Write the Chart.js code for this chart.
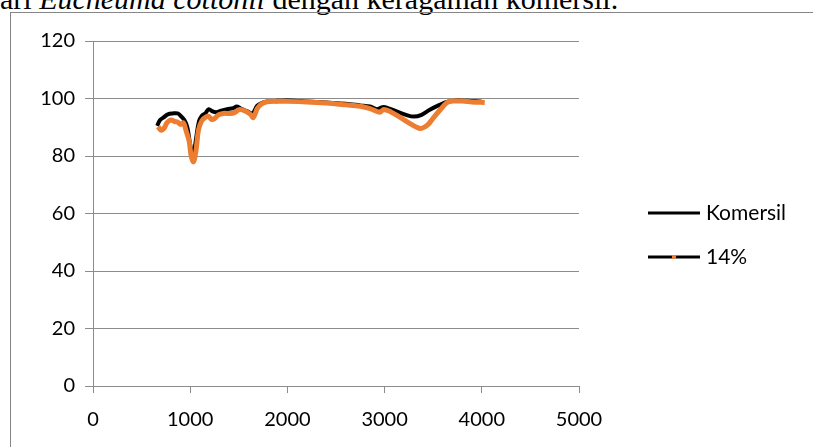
<!DOCTYPE html>
<html>
<head>
<meta charset="utf-8">
<script src="https://cdn.jsdelivr.net/npm/chart.js@4.4.1/dist/chart.umd.min.js"></script>
<style>
  body { margin: 0; background: #fff; overflow: hidden; }
  #caption { position: absolute; left: -15px; top: -18px; font: 30px/33px "Liberation Serif", serif; white-space: nowrap; color: #000; }
  #frame { position: absolute; left: 10px; top: 12px; width: 900px; height: 500px; border-left: 1px solid #868686; border-top: 1px solid #868686; }
  #wrap { position: absolute; left: 0; top: 0; width: 813px; height: 447px; }
</style>
</head>
<body>
<div id="caption">dari <i>Eucheuma cottonii</i> dengan keragaman komersil.</div>
<div id="frame"></div>
<div id="wrap"><canvas id="ftir" width="813" height="447"></canvas></div>
<script>
// wavenumber (x) and % transmittance (y)
const komersilX = [660, 690, 730, 770, 820, 870, 900, 940, 970, 1000, 1030, 1060, 1090, 1120, 1160, 1190, 1230, 1270, 1320, 1380, 1440, 1480, 1530, 1590, 1640, 1690, 1740, 1800, 1900, 2000, 2200, 2400, 2600, 2750, 2850, 2920, 2980, 3050, 3130, 3220, 3300, 3380, 3460, 3560, 3650, 3750, 3850, 4000];
const komersilY = [90.5, 92.5, 93.5, 94.5, 94.8, 94.8, 94.0, 92.5, 90.0, 84.0, 80.0, 86.0, 92.0, 94.0, 95.0, 96.3, 95.5, 95.2, 95.8, 96.3, 96.6, 97.2, 96.3, 95.5, 94.8, 97.5, 98.5, 99.0, 99.2, 99.3, 99.0, 98.6, 98.2, 97.6, 97.2, 96.3, 97.0, 96.5, 95.4, 94.3, 93.7, 94.3, 96.0, 97.7, 98.9, 99.3, 99.2, 98.9];

const p14X = [670, 700, 730, 760, 800, 840, 870, 900, 930, 960, 990, 1010, 1035, 1060, 1085, 1120, 1160, 1190, 1220, 1250, 1290, 1340, 1400, 1450, 1510, 1580, 1620, 1650, 1690, 1730, 1790, 1900, 2000, 2200, 2400, 2600, 2750, 2850, 2950, 2990, 3060, 3160, 3250, 3330, 3380, 3440, 3500, 3570, 3640, 3700, 3800, 3900, 4030];
const p14Y = [90.2, 89.0, 89.6, 91.5, 92.5, 92.0, 91.8, 91.0, 91.5, 88.5, 85.0, 80.0, 78.0, 82.0, 89.0, 92.3, 93.5, 93.8, 92.7, 93.0, 94.3, 94.8, 94.8, 95.0, 96.2, 95.4, 94.5, 93.4, 96.5, 98.0, 98.9, 99.0, 99.0, 98.8, 98.4, 97.8, 97.3, 96.5, 95.2, 96.2, 95.4, 93.4, 91.5, 90.0, 89.6, 90.7, 93.2, 96.0, 98.5, 99.1, 99.1, 98.8, 98.6];

const seriesNames = ["Komersil", "14%"];
const xTicks = [0, 1000, 2000, 3000, 4000, 5000];
const yTicks = [0, 20, 40, 60, 80, 100, 120];

const toPoints = (xs, ys) => xs.map((x, i) => ({ x: x, y: ys[i] }));

const gridColor = "#8c8c8c";
const tickFont = { family: "Lato", size: 20 };

// legend drawn by hand: Excel shows the 14% entry as a black line with an orange marker
const excelLegend = {
  id: "excelLegend",
  afterDraw(chart) {
    const ctx = chart.ctx;
    const rows = [
      { y: 213, marker: false },
      { y: 257, marker: true }
    ];
    ctx.save();
    rows.forEach((row, i) => {
      ctx.strokeStyle = "#000";
      ctx.lineWidth = 3;
      ctx.beginPath();
      ctx.moveTo(648, row.y);
      ctx.lineTo(700, row.y);
      ctx.stroke();
      if (row.marker) {
        ctx.fillStyle = "#ed7d31";
        ctx.fillRect(672, row.y - 2, 4, 4);
      }
      ctx.fillStyle = "#000";
      ctx.font = "21px Lato";
      ctx.textBaseline = "middle";
      ctx.textAlign = "left";
      ctx.fillText(seriesNames[i], 706, row.y);
    });
    ctx.restore();
  }
};

const ctx = document.getElementById("ftir").getContext("2d");

new Chart(ctx, {
  type: "line",
  data: {
    datasets: [
      {
        label: seriesNames[0],
        data: toPoints(komersilX, komersilY),
        borderColor: "#000",
        borderWidth: 4,
        pointRadius: 0,
        tension: 0.35,
        order: 2
      },
      {
        label: seriesNames[1],
        data: toPoints(p14X, p14Y),
        borderColor: "#ed7d31",
        borderWidth: 5,
        pointRadius: 0,
        tension: 0.35,
        order: 1
      }
    ]
  },
  options: {
    responsive: false,
    animation: false,
    layout: { padding: { left: 23, top: 41, right: 234, bottom: 11 } },
    plugins: {
      legend: { display: false },
      tooltip: { enabled: false }
    },
    scales: {
      x: {
        type: "linear",
        min: 0,
        max: 5000,
        afterBuildTicks: (axis) => { axis.ticks = xTicks.map(v => ({ value: v })); },
        afterFit: (axis) => { axis.height = 50; },
        grid: { drawOnChartArea: false, drawTicks: true, tickLength: 7, color: gridColor },
        border: { color: gridColor, width: 1 },
        ticks: { color: "#000", font: tickFont, padding: 15, maxRotation: 0, callback: (v) => String(v) }
      },
      y: {
        min: 0,
        max: 120,
        afterBuildTicks: (axis) => { axis.ticks = yTicks.map(v => ({ value: v })); },
        afterFit: (axis) => { axis.width = 70; },
        grid: { color: gridColor, tickLength: 8 },
        border: { color: gridColor, width: 1 },
        ticks: { color: "#000", font: tickFont, padding: 10, callback: (v) => String(v) }
      }
    }
  },
  plugins: [excelLegend]
});
</script>
</body>
</html>
